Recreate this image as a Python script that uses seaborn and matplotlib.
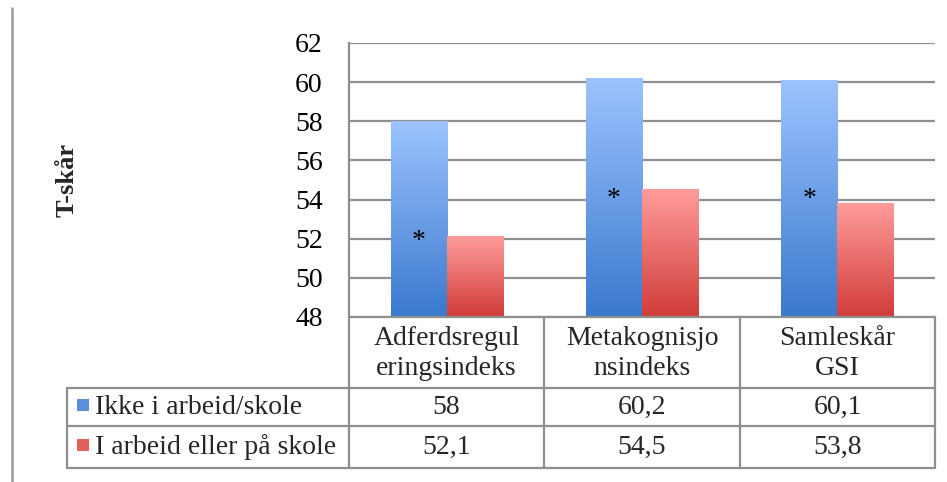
import numpy as np
import pandas as pd
import matplotlib
matplotlib.use("Agg")
import matplotlib.pyplot as plt
import seaborn as sns
from matplotlib.colors import LinearSegmentedColormap
from matplotlib.patches import Rectangle
from matplotlib.lines import Line2D

categories = ["Adferdsregul\neringsindeks", "Metakognisjo\nnsindeks", "Samleskår\nGSI"]
series_names = ["Ikke i arbeid/skole", "I arbeid eller på skole"]
ikke_values = [58, 60.2, 60.1]
arbeid_values = [52.1, 54.5, 53.8]
ikke_labels = ["58", "60,2", "60,1"]
arbeid_labels = ["52,1", "54,5", "53,8"]
star_y = [51.85, 54.0, 54.0]
yticks = [48, 50, 52, 54, 56, 58, 60, 62]

sns.set_theme(style="white")
plt.rcParams['font.family'] = ['Liberation Serif', 'DejaVu Serif']

W, H = 947, 482
fig = plt.figure(figsize=(W / 100, H / 100), dpi=100)

def fx(px):
    return px / W

def fy(py):
    return 1 - py / H

left, right, top, bottom = 349, 935, 43, 317
ax = fig.add_axes([fx(left), fy(bottom), fx(right) - fx(left), fy(top) - fy(bottom)])

df = pd.DataFrame({
    "cat": categories * 2,
    "serie": [series_names[0]] * 3 + [series_names[1]] * 3,
    "val": ikke_values + arbeid_values,
})
sns.barplot(data=df, x="cat", y="val", hue="serie", ax=ax, width=0.575,
            palette=["#5b8fdc", "#e35f5c"], legend=False, saturation=1)

ax.set_ylim(48, 62)
ax.set_yticks(yticks)
ax.set_xlim(-0.5, 2.5)

grad_colors = [("#3a79cd", "#9dc3ff"), ("#d03c3a", "#ff9c9a")]
patches = list(ax.patches)
for i, p in enumerate(patches):
    s = i // 3
    x0 = p.get_x()
    w = p.get_width()
    h = p.get_height()
    y0 = 48
    y1 = p.get_y() + h
    cmap = LinearSegmentedColormap.from_list("g%d" % s, list(grad_colors[s]))
    grad = np.linspace(0, 1, 256).reshape(-1, 1)
    ax.imshow(grad, extent=(x0, x0 + w, y0, y1), origin="lower", cmap=cmap,
              aspect="auto", zorder=3)
    p.set_visible(False)

# asterisks
blue = patches[:3]
for j, p in enumerate(blue):
    ax.text(p.get_x() + p.get_width() / 2, star_y[j], "*", ha="center", va="center",
            fontsize=20, color="black", zorder=5)

ax.set_xlim(-0.5, 2.5)
ax.set_ylim(48, 62)

grid_col = "#8f8f8f"
ax.yaxis.grid(True, color=grid_col, linewidth=1.6, zorder=0)
ax.set_axisbelow(True)
for side in ["top", "right", "bottom"]:
    ax.spines[side].set_visible(False)
ax.spines["left"].set_color(grid_col)
ax.spines["left"].set_linewidth(1.6)
ax.tick_params(axis="y", length=0, pad=19, labelsize=20, colors="black")
ax.set_xticks([])
ax.set_xlabel("")
ax.set_ylabel("")

fig.text(fx(67), fy(180), "T-skår", rotation=90, ha="center", va="center",
         fontsize=19, fontweight="bold")

# data table
lc = "#8f8f8f"
lw = 1.6
cols = [349, 544, 740, 935]
rows = [317, 388, 426, 468]
tab_left = 67

def hline(x0, x1, y):
    fig.add_artist(Line2D([fx(x0), fx(x1)], [fy(y), fy(y)], color=lc, linewidth=lw))

def vline(x, y0, y1):
    fig.add_artist(Line2D([fx(x), fx(x)], [fy(y0), fy(y1)], color=lc, linewidth=lw))

hline(cols[0], cols[-1], rows[0])
hline(tab_left, cols[-1], rows[1])
hline(tab_left, cols[-1], rows[2])
hline(tab_left, cols[-1], rows[3])
for c in cols:
    vline(c, rows[0], rows[3])
vline(tab_left, rows[1], rows[3])

fs = 20
for j, cat in enumerate(categories):
    cx = (cols[j] + cols[j + 1]) / 2
    fig.text(fx(cx), fy((rows[0] + rows[1]) / 2 + 1), cat, ha="center", va="center",
             fontsize=fs, linespacing=1.3)
    fig.text(fx(cx), fy((rows[1] + rows[2]) / 2), ikke_labels[j], ha="center",
             va="center", fontsize=fs)
    fig.text(fx(cx), fy((rows[2] + rows[3]) / 2), arbeid_labels[j], ha="center",
             va="center", fontsize=fs)

sw_cols = ["#5b8fdc", "#e35f5c"]
for r in range(2):
    yc = (rows[1 + r] + rows[2 + r]) / 2
    fig.add_artist(Rectangle((fx(77), fy(yc + 4)), fx(12), 12 / H,
                             facecolor=sw_cols[r], edgecolor="none"))
    fig.text(fx(95), fy(yc), series_names[r], ha="left", va="center", fontsize=fs)

# outer left border line
fig.add_artist(Line2D([fx(12), fx(12)], [fy(8), fy(482)], color="#9a9a9a", linewidth=1.8))

fig.savefig("out.png", dpi=100)
